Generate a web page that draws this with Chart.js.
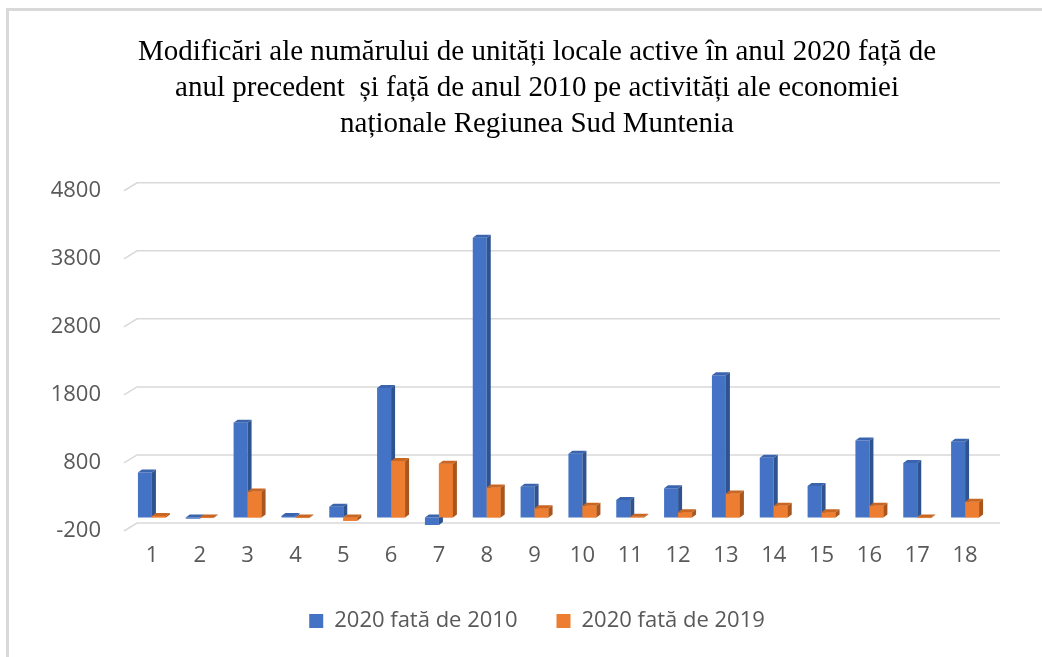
<!DOCTYPE html>
<html>
<head>
<meta charset="utf-8">
<script src="https://cdn.jsdelivr.net/npm/chart.js@4.4.1/dist/chart.umd.min.js"></script>
<style>
  body { margin: 0; background: #fff; }
  #wrap { position: relative; width: 1042px; height: 657px; overflow: hidden; }
  #frame { position: absolute; left: 6px; top: 8px; right: -10px; bottom: -10px;
           border-top: 3px solid #d9d9d9; border-left: 3px solid #d9d9d9; }
  #myChart { position: absolute; left: 0; top: 0; }
</style>
</head>
<body>
<div id="wrap">
  <div id="frame"></div>
  <canvas id="myChart" width="1042" height="657"></canvas>
</div>
<script>
// data
const categories = ['1', '2', '3', '4', '5', '6', '7', '8', '9', '10', '11', '12', '13', '14', '15', '16', '17', '18'];
const vs2010 = [660, -20, 1390, 20, 155, 1900, -110, 4110, 450, 935, 255, 430, 2090, 875, 460, 1130, 800, 1110];
const vs2019 = [20, -10, 380, -10, -50, 830, 790, 440, 135, 170, 10, 75, 350, 170, 75, 170, -10, 230];
const seriesNames = ['2020 fată de 2010', '2020 fată de 2019'];
const titleLines = [
  'Modificări ale numărului de unități locale active în anul 2020 față de',
  'anul precedent  și față de anul 2010 pe activități ale economiei',
  'naționale Regiunea Sud Muntenia'
];

const faceColors = [
  { side: '#2f538f', top: '#3a64ad' },
  { side: '#a9561e', top: '#c86622' }
];
const DX = 4, DY = 3;

// back wall grid lines, shifted like the 3d excel chart
const wallGrid = {
  id: 'wallGrid',
  beforeDatasetsDraw(chart) {
    const ctx = chart.ctx;
    const area = chart.chartArea;
    const y = chart.scales.y;
    ctx.save();
    ctx.strokeStyle = '#d9d9d9';
    ctx.lineWidth = 1.5;
    y.ticks.forEach(function (t) {
      const py = y.getPixelForValue(t.value);
      ctx.beginPath();
      ctx.moveTo(area.left - 4, py);
      ctx.lineTo(area.left + 9, py - 8);
      ctx.lineTo(area.right + 11, py - 8);
      ctx.stroke();
    });
    ctx.restore();
  }
};

// side and top faces of the columns
const columns3d = {
  id: 'columns3d',
  afterDatasetsDraw(chart) {
    const ctx = chart.ctx;
    ctx.save();
    chart.data.datasets.forEach(function (ds, i) {
      const meta = chart.getDatasetMeta(i);
      meta.data.forEach(function (bar) {
        const left = bar.x - bar.width / 2;
        const right = bar.x + bar.width / 2;
        const top = Math.min(bar.y, bar.base);
        const bottom = Math.max(bar.y, bar.base);
        if (i > 0) {
          ctx.fillStyle = ds.backgroundColor;
          ctx.fillRect(left, top, bar.width, bottom - top);
        }
        ctx.fillStyle = faceColors[i].side;
        ctx.beginPath();
        ctx.moveTo(right, top);
        ctx.lineTo(right + DX, top - DY);
        ctx.lineTo(right + DX, bottom - DY);
        ctx.lineTo(right, bottom);
        ctx.closePath();
        ctx.fill();
        ctx.fillStyle = faceColors[i].top;
        ctx.beginPath();
        ctx.moveTo(left, top);
        ctx.lineTo(left + DX, top - DY);
        ctx.lineTo(right + DX, top - DY);
        ctx.lineTo(right, top);
        ctx.closePath();
        ctx.fill();
      });
    });
    ctx.restore();
  }
};

const labelFont = { family: "'Open Sans', 'Noto Sans', sans-serif", size: 22 };

new Chart(document.getElementById('myChart'), {
  type: 'bar',
  data: {
    labels: categories,
    datasets: [
      { label: seriesNames[0], data: vs2010, backgroundColor: '#4472c4' },
      { label: seriesNames[1], data: vs2019, backgroundColor: '#ed7d31' }
    ]
  },
  options: {
    responsive: false,
    animation: false,
    devicePixelRatio: 1,
    categoryPercentage: 0.585,
    barPercentage: 1,
    layout: { padding: { top: 10, left: 51, right: 19, bottom: 15 } },
    plugins: {
      title: {
        display: true,
        text: titleLines,
        color: '#000',
        font: { family: "'Liberation Serif', 'Times New Roman', serif", size: 29, weight: 'normal', lineHeight: 1.25 },
        padding: { top: 24, bottom: 48 }
      },
      legend: {
        position: 'bottom',
        labels: {
          boxWidth: 14,
          boxHeight: 14,
          color: '#595959',
          font: labelFont,
          padding: 39
        }
      },
      tooltip: { enabled: false }
    },
    scales: {
      x: {
        grid: { display: false, drawTicks: false },
        border: { display: false },
        ticks: { color: '#595959', font: labelFont, padding: 12 },
        afterFit: function (axis) { axis.height = 40; }
      },
      y: {
        min: -200,
        max: 4800,
        grid: { display: false, drawTicks: false },
        border: { display: false },
        ticks: {
          stepSize: 1000,
          color: '#595959',
          font: labelFont,
          padding: 27,
          callback: function (v) { return String(v); }
        },
        afterFit: function (axis) { axis.width = 77; }
      },
      // empty right side space of the plot
      yRight: {
        position: 'right',
        grid: { display: false, drawTicks: false },
        border: { display: false },
        ticks: { display: false },
        afterFit: function (axis) { axis.width = 34; }
      }
    }
  },
  plugins: [wallGrid, columns3d]
});
</script>
</body>
</html>
